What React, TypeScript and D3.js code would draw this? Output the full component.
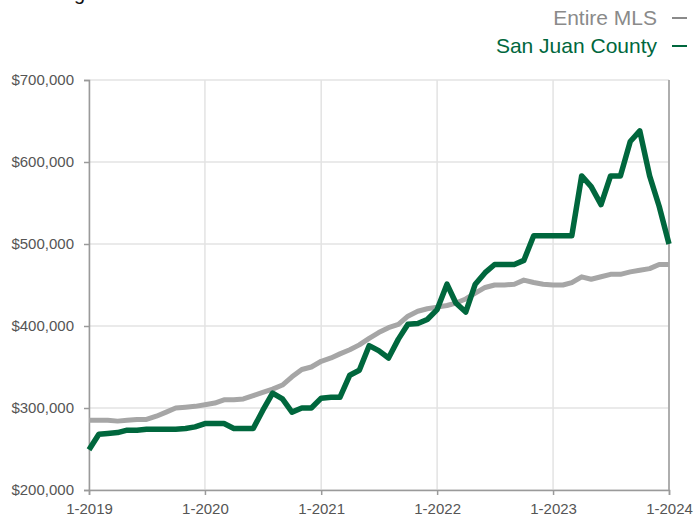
import React, { useEffect, useRef } from 'react';
import * as d3 from 'd3';

// monthly values, Jan 2019 .. Jan 2024 (rolling 12-month median sales price)
const startMonth = new Date(2019, 0, 1);

const entireMLS = [
  285000, 285000, 285000, 284000, 285000, 286000, 286000, 290000, 295000, 300000, 301000, 302000,
  304000, 306000, 310000, 310000, 311000, 315000, 319000, 323000, 328000, 338000, 347000, 350000,
  357000, 361000, 366000, 371000, 377000, 385000, 392000, 398000, 402000, 412000, 418000, 421000,
  423000, 425000, 428000, 433000, 440000, 447000, 450000, 450000, 451000, 456000, 453000, 451000,
  450000, 450000, 453000, 460000, 457000, 460000, 463000, 463000, 466000, 468000, 470000, 475000,
  475000,
];

const sanJuan = [
  249000, 268000, 269000, 270000, 273000, 273000, 274000, 274000, 274000, 274000, 275000, 277000,
  281000, 281000, 281000, 275000, 275000, 275000, 297000, 318000, 311000, 295000, 300000, 300000,
  312000, 313000, 313000, 340000, 346000, 376000, 370000, 361000, 384000, 402000, 403000, 408000,
  420000, 451000, 428000, 417000, 451000, 465000, 475000, 475000, 475000, 480000, 510000, 510000,
  510000, 510000, 510000, 583000, 570000, 548000, 583000, 583000, 625000, 638000, 583000, 546000,
  500000,
];

const yTicks = [200000, 300000, 400000, 500000, 600000, 700000];
const xTickYears = [2019, 2020, 2021, 2022, 2023, 2024];

const seriesNames = ['Entire MLS', 'San Juan County'];
const seriesColors = ['#a6a6a6', '#00673d'];
const legendTextColors = ['#8a8a8a', '#00673d'];

const W = 694;
const H = 520;

const App: React.FC = () => {
  const svgRef = useRef<SVGSVGElement>(null);

  useEffect(() => {
    if (!svgRef.current) return;
    const svg = d3.select(svgRef.current);
    svg.selectAll('*').remove();

    const margin = { top: 80, right: 25, bottom: 30, left: 89 };
    const width = W - margin.left - margin.right;
    const height = H - margin.top - margin.bottom;
    const font = '"Liberation Sans", Arial, Helvetica, sans-serif';

    const x = d3.scaleTime()
      .domain([new Date(2019, 0, 1), new Date(2024, 0, 1)])
      .range([0, width]);
    const y = d3.scaleLinear().domain([200000, 700000]).range([height, 0]);

    const g = svg.append('g').attr('transform', `translate(${margin.left},${margin.top})`);

    // grid
    g.append('g')
      .selectAll('line.h')
      .data(yTicks)
      .join('line')
      .attr('x1', 0)
      .attr('x2', width)
      .attr('y1', d => y(d))
      .attr('y2', d => y(d))
      .attr('stroke', '#e3e3e3')
      .attr('stroke-width', 1.5);

    const xTickDates = xTickYears.map(yr => new Date(yr, 0, 1));
    g.append('g')
      .selectAll('line.v')
      .data(xTickDates)
      .join('line')
      .attr('x1', d => x(d))
      .attr('x2', d => x(d))
      .attr('y1', 0)
      .attr('y2', height)
      .attr('stroke', '#e3e3e3')
      .attr('stroke-width', 1.5);

    // axes
    const yAxis = g.append('g')
      .call(d3.axisLeft(y).tickValues(yTicks).tickSize(5).tickPadding(10)
        .tickFormat(d => '$' + d3.format(',')(d as number)));
    yAxis.select('.domain').attr('stroke', '#9a9a9a').attr('stroke-width', 1.5);
    yAxis.selectAll('.tick line').attr('stroke', '#9a9a9a').attr('stroke-width', 1.5);
    yAxis.selectAll('.tick text')
      .attr('fill', '#555')
      .style('font-family', font)
      .style('font-size', '15px');

    const xAxis = g.append('g')
      .attr('transform', `translate(0,${height})`)
      .call(d3.axisBottom(x).tickValues(xTickDates).tickSize(5).tickPadding(8)
        .tickFormat(d => d3.timeFormat('%-m-%Y')(d as Date)));
    xAxis.select('.domain').attr('stroke', '#9a9a9a').attr('stroke-width', 1.5);
    xAxis.selectAll('.tick line').attr('stroke', '#9a9a9a').attr('stroke-width', 1.5);
    xAxis.selectAll('.tick text')
      .attr('fill', '#555')
      .style('font-family', font)
      .style('font-size', '15px');

    // right border
    g.append('line')
      .attr('x1', width).attr('x2', width)
      .attr('y1', 0).attr('y2', height)
      .attr('stroke', '#9a9a9a')
      .attr('stroke-width', 1.5);

    // lines
    const line = d3.line<number>()
      .x((_, i) => x(d3.timeMonth.offset(startMonth, i)))
      .y(d => y(d));

    [entireMLS, sanJuan].forEach((series, si) => {
      g.append('path')
        .datum(series)
        .attr('fill', 'none')
        .attr('stroke', seriesColors[si])
        .attr('stroke-width', si === 0 ? 5 : 5.5)
        .attr('stroke-linejoin', 'round')
        .attr('d', line);
    });

    // legend, top right
    seriesNames.forEach((name, i) => {
      const ly = 25 + i * 28;
      svg.append('text')
        .attr('x', 657)
        .attr('y', ly)
        .attr('text-anchor', 'end')
        .attr('fill', legendTextColors[i])
        .style('font-family', font)
        .style('font-size', '21px')
        .text(name);
      svg.append('line')
        .attr('x1', 672).attr('x2', 687)
        .attr('y1', ly - 7).attr('y2', ly - 7)
        .attr('stroke', legendTextColors[i])
        .attr('stroke-width', 2);
    });

    // title, mostly cropped off the top as in the source
    svg.append('text')
      .attr('x', 24)
      .attr('y', 0)
      .attr('fill', '#111')
      .style('font-family', font)
      .style('font-size', '20px')
      .text('Rolling');
    svg.append('text')
      .attr('x', 143)
      .attr('y', 0)
      .attr('fill', '#9a9a9a')
      .style('font-family', font)
      .style('font-size', '15px')
      .text('12-Month Calculation');
  }, []);

  return (
    <svg
      ref={svgRef}
      width={W}
      height={H}
      style={{ position: 'absolute', left: 0, top: 0, background: '#fff' }}
    />
  );
};

export default App;
